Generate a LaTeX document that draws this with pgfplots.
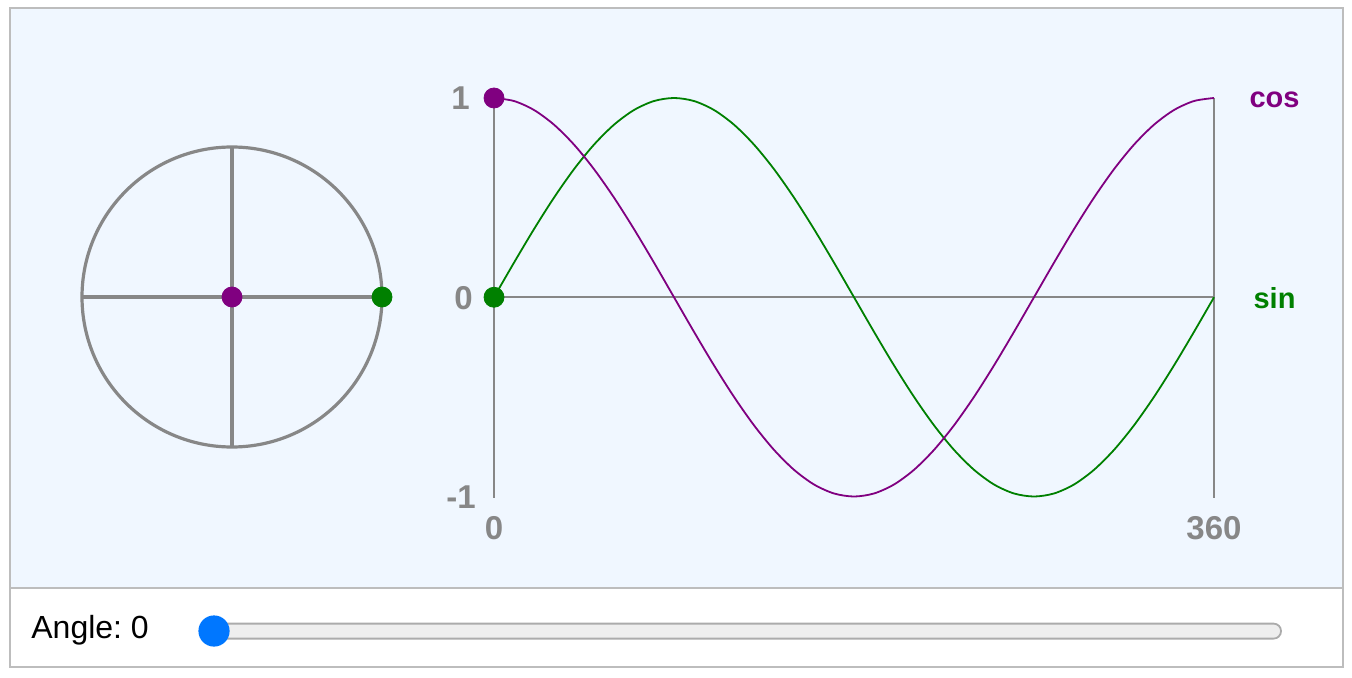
\documentclass[border=0pt]{standalone}
\usepackage{pgfplots}
\usepackage{pgfplotstable}
\pgfplotsset{compat=1.18}
\usepackage{fontspec}
\setmainfont{Liberation Sans}
\frenchspacing
\definecolor{axgray}{HTML}{878787}
\definecolor{panelbg}{HTML}{F0F7FF}
\definecolor{panelborder}{HTML}{BDBDBD}
\definecolor{cospurple}{HTML}{800080}
\definecolor{singreen}{HTML}{008000}
\definecolor{knob}{HTML}{0077FF}
\definecolor{track}{HTML}{EEEEEE}
\definecolor{trackborder}{HTML}{ABABAB}

\pgfplotstableread{
angle sin cos
0 0 1
10 0.1736 0.9848
20 0.3420 0.9397
30 0.5 0.8660
40 0.6428 0.7660
50 0.7660 0.6428
60 0.8660 0.5
70 0.9397 0.3420
80 0.9848 0.1736
90 1 0
100 0.9848 -0.1736
110 0.9397 -0.3420
120 0.8660 -0.5
130 0.7660 -0.6428
140 0.6428 -0.7660
150 0.5 -0.8660
160 0.3420 -0.9397
170 0.1736 -0.9848
180 0 -1
190 -0.1736 -0.9848
200 -0.3420 -0.9397
210 -0.5 -0.8660
220 -0.6428 -0.7660
230 -0.7660 -0.6428
240 -0.8660 -0.5
250 -0.9397 -0.3420
260 -0.9848 -0.1736
270 -1 0
280 -0.9848 0.1736
290 -0.9397 0.3420
300 -0.8660 0.5
310 -0.7660 0.6428
320 -0.6428 0.7660
330 -0.5 0.8660
340 -0.3420 0.9397
350 -0.1736 0.9848
360 0 1
}\wavedata

\begin{document}
\begin{tikzpicture}
% bounding box: 1352 x 678 px at 0.5pt per px
\path[use as bounding box] (0pt,0pt) rectangle (676pt,-339pt);
% panels
\fill[panelbg] (5pt,-4pt) rectangle (671.5pt,-294pt);
\draw[panelborder, line width=0.8pt] (5pt,-4pt) rectangle (671.5pt,-333.5pt);
\draw[panelborder, line width=0.8pt] (5pt,-294pt) -- (671.5pt,-294pt);
% bottom control
\node[anchor=base west, font=\fontsize{16}{19}\selectfont, inner sep=0pt] at (15.5pt,-319pt) {Angle:\ 0};
\draw[trackborder, fill=track, line width=0.9pt, rounded corners=3.7pt] (103pt,-311.8pt) rectangle (640.5pt,-319.3pt);
\fill[knob] (107pt,-315.5pt) circle (7.8pt);

% circle axis
\begin{axis}[
  at={(41pt,-223.5pt)}, anchor=south west,
  scale only axis, width=150pt, height=150pt,
  xmin=-1, xmax=1, ymin=-1, ymax=1,
  hide axis, clip=false,
]
\draw[axgray, line width=1.6pt] (axis cs:0,0) circle[radius=1];
\draw[axgray, line width=1.6pt] (axis cs:-1,0) -- (axis cs:1,0);
\draw[axgray, line width=1.6pt] (axis cs:0,-1) -- (axis cs:0,1);
\addplot[only marks, mark=*, mark size=5pt, cospurple, mark options={draw=cospurple, fill=cospurple}] coordinates {(0,0)};
\addplot[only marks, mark=*, mark size=5pt, singreen, mark options={draw=singreen, fill=singreen}] coordinates {(1,0)};
\end{axis}

% sin / cos axis
\begin{axis}[
  at={(247pt,-248.25pt)}, anchor=south west,
  scale only axis, width=360pt, height=199.25pt,
  xmin=0, xmax=360, ymin=-1, ymax=1,
  hide axis, clip=false,
]
\draw[axgray, line width=0.9pt] (axis cs:0,1) -- (axis cs:0,-1.01);
\draw[axgray, line width=0.9pt] (axis cs:360,1) -- (axis cs:360,-1.01);
\draw[axgray, line width=0.9pt] (axis cs:0,0) -- (axis cs:360,0);
\addplot[singreen, line width=0.9pt, smooth] table[x=angle, y=sin] {\wavedata};
\addplot[cospurple, line width=0.9pt, smooth] table[x=angle, y=cos] {\wavedata};
\addplot[only marks, mark=*, mark size=5pt, cospurple, mark options={draw=cospurple, fill=cospurple}] coordinates {(0,1)};
\addplot[only marks, mark=*, mark size=5pt, singreen, mark options={draw=singreen, fill=singreen}] coordinates {(0,0)};
% tick labels
\node[anchor=base east, inner sep=0pt, text=axgray, font=\fontsize{16.5}{19}\selectfont\bfseries] at ([xshift=-12pt, yshift=-5.75pt]axis cs:0,1) {1};
\node[anchor=base east, inner sep=0pt, text=axgray, font=\fontsize{16.5}{19}\selectfont\bfseries] at ([xshift=-10.5pt, yshift=-6pt]axis cs:0,0) {0};
\node[anchor=base east, inner sep=0pt, text=axgray, font=\fontsize{16.5}{19}\selectfont\bfseries] at ([xshift=-9pt, yshift=-6pt]axis cs:0,-1) {-1};
\node[anchor=base, inner sep=0pt, text=axgray, font=\fontsize{16.5}{19}\selectfont\bfseries] at ([yshift=-21.25pt]axis cs:0,-1) {0};
\node[anchor=base, inner sep=0pt, text=axgray, font=\fontsize{16.5}{19}\selectfont\bfseries] at ([yshift=-21.25pt]axis cs:360,-1) {360};
% series labels
\node[anchor=base, inner sep=0pt, text=cospurple, font=\fontsize{14.5}{17}\selectfont\bfseries] at ([xshift=30.25pt, yshift=-5pt]axis cs:360,1) {cos};
\node[anchor=base, inner sep=0pt, text=singreen, font=\fontsize{14.5}{17}\selectfont\bfseries] at ([xshift=30.25pt, yshift=-5.5pt]axis cs:360,0) {sin};
\end{axis}
\end{tikzpicture}
\end{document}
